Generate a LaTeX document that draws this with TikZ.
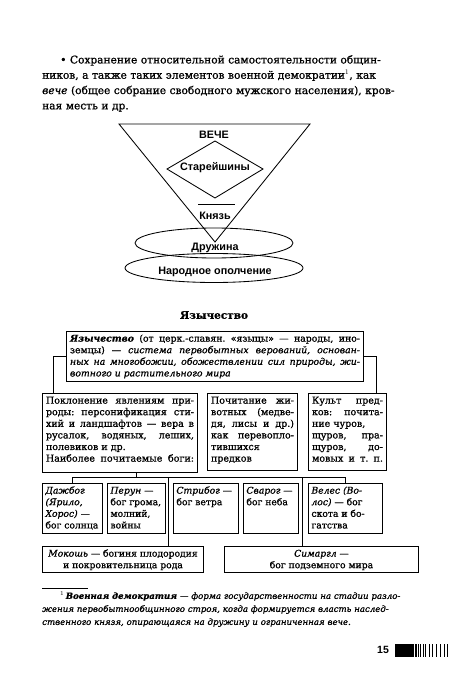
\documentclass[tikz,border=0pt]{standalone}
\usepackage{fontspec}
\setmainfont{DejaVu Serif}[FakeBold=1.0]
\newfontfamily\dsans{Liberation Sans}
\usetikzlibrary{calc}
\frenchspacing
\hyphenpenalty=10000
\exhyphenpenalty=10000
\tolerance=10000
\hbadness=10000
\hfuzz=50pt
\newcommand\tb[3]{\parbox[t][#2][t]{#1}{\strut #3}}
\newcommand\jl[1]{\makebox[\linewidth][s]{#1}}
\begin{document}
\begin{tikzpicture}[x=1pt,y=-1pt,
  frame/.style={draw, line width=0.95pt, inner xsep=3.5pt, inner ysep=2pt, anchor=north west, font=\fontsize{9.5}{11.6}\selectfont},
  gframe/.style={frame, inner xsep=3pt, font=\fontsize{9.2}{11.6}\selectfont},
  conn/.style={line width=0.85pt},
  shp/.style={draw, line width=0.85pt},
  lbl/.style={font=\dsans\bfseries\fontsize{10.8}{12}\selectfont, inner sep=0pt},
  para/.style={anchor=north west, inner sep=0pt, align=left}
]
\useasboundingbox (0,0) rectangle (451,700);
\fill[white] (0,0) rectangle (451,700);

% body text
\node[para, text width=368pt, font=\fontsize{10.6}{15.3}\selectfont] (body) at (42,55) {\jl{\hspace*{18pt}• Сохранение относительной самостоятельности общин-}\\ \jl{ников, а также таких элементов военной демократии$^1$, как}\\ \jl{\textit{вече} (общее собрание свободного мужского населения), кров-}\\ ная месть и др.};

% triangle scheme
\coordinate (tl) at (119,124);
\coordinate (tr) at (310,124);
\coordinate (ap) at (215,242);
\draw[shp] (tl) -- (tr) -- (ap) -- cycle;
\draw[shp] (215,141) -- (263,169) -- (215,198) -- (167,169) -- cycle;
\draw[conn] (198,204) -- (235,204);
\draw[shp] (214,243) ellipse [x radius=79, y radius=15];
\draw[shp] (214,268) ellipse [x radius=89, y radius=14.5];
\node[lbl] (veche) at (214,135) {ВЕЧЕ};
\node[lbl] (star) at (215,168) {Старейшины};
\node[lbl] (knyaz) at (215,216) {Князь};
\node[lbl] (druzh) at (215,247.5) {Дружина};
\node[lbl] (opol) at (215,272) {Народное ополчение};

% heading
\node[inner sep=0pt, font=\bfseries\fontsize{10.5}{12}\selectfont] (head) at (214,315) {Язычество};

% boxes
\node[frame, font=\fontsize{9.3}{11.6}\selectfont] (big) at (66,331) {\tb{290pt}{46pt}{\jl{\textbf{\textit{Язычество}} (от церк.-славян. «языцы» — народы, ино-}\\ \jl{земцы) — \textit{система первобытных верований, основан-}}\\ \jl{\textit{ных на многобожии, обожествлении сил природы, жи-}}\\ \textit{вотного и растительного мира}}};

\node[frame] (b1) at (42,393) {\tb{148pt}{75pt}{\jl{Поклонение явлениям при-}\\ \jl{роды: персонификация сти-}\\ \jl{хий и ландшафтов — вера в}\\ \jl{русалок, водяных, леших,}\\ полевиков и др.\\ \jl{Наиболее почитаемые боги:}}};
\node[frame] (b2) at (207,393) {\tb{83pt}{73pt}{\jl{Почитание жи-}\\ \jl{вотных (медве-}\\ \jl{дя, лисы и др.)}\\ \jl{как перевопло-}\\ тившихся\\ предков}};
\node[frame] (b3) at (308,393) {\tb{71pt}{73pt}{\jl{Культ пред-}\\ \jl{ков: почита-}\\ ние чуров,\\ \jl{щуров, пра-}\\ \jl{щуров, до-}\\ \jl{мовых и т. п.}}};

\node[gframe] (dazh) at (42,483) {\tb{54pt}{46pt}{\textit{Дажбог}\\ \textit{(Ярило,}\\ \textit{Хорос)} —\\ бог солнца}};
\node[gframe] (perun) at (107,483) {\tb{52pt}{46pt}{\textit{Перун} —\\ бог грома,\\ молний,\\ войны}};
\node[gframe] (strib) at (173,483) {\tb{59pt}{46pt}{\textit{Стрибог} —\\ бог ветра}};
\node[gframe] (svar) at (243,483) {\tb{49pt}{46pt}{\textit{Сварог} —\\ бог неба}};
\node[gframe] (veles) at (308,483) {\tb{68pt}{46pt}{\textit{Велес (Во-}\\ \textit{лос)} — бог\\ скота и бо-\\ гатства}};

\node[gframe, inner xsep=3.5pt] (mok) at (42,546) {\tb{154pt}{22pt}{\centering\textit{Мокошь} — богиня плодородия\\ и покровительница рода}};
\node[gframe, inner xsep=3.5pt] (sim) at (224,546) {\tb{187pt}{22pt}{\centering\textit{Симаргл} —\\ бог подземного мира}};

% connectors
\coordinate (bus) at (0,477);
\draw[conn] (big.west) -| ([xshift=11pt]b1.north west);
\draw[conn] (big.east) -| ([xshift=-11pt]b3.north east);
\draw[conn] ([xshift=94pt]b1.south west) -- ([xshift=94pt]b1.south west |- bus);
\draw[conn] (dazh.north) -- (dazh.north |- bus) -| (veles.north);
\draw[conn] ([xshift=126pt]mok.north west) -- ([xshift=126pt]mok.north west |- bus);
\draw[conn] ([xshift=78pt]sim.north west) -- ([xshift=78pt]sim.north west |- bus);

% footnote
\draw[line width=0.6pt] (42,588) -- (88,588);
\node[para, text width=368pt, font=\fontsize{8.6}{13}\selectfont] (fn) at (42,591) {\jl{\hspace*{18pt}$^1$\,\textbf{\textit{Военная демократия}} — \textit{форма государственности на стадии разло-}}\\ \jl{\textit{жения первобытнообщинного строя, когда формируется власть наслед-}}\\ \textit{ственного князя, опирающаяся на дружину и ограниченная вече.}};

% page number and bar
\node[inner sep=0pt, font=\dsans\bfseries\fontsize{10.5}{12}\selectfont] (pg) at (383,650) {15};
\fill[black] (395,644) rectangle (412,657);
\foreach \x in {412.5,413.8,415.2,416.8,418.6,420.6,423,425.8,429,432.6,436.4,440.2,444,447.8} {
  \draw[line width=0.7pt] (\x,644) -- (\x,657);
}
\end{tikzpicture}
\end{document}
